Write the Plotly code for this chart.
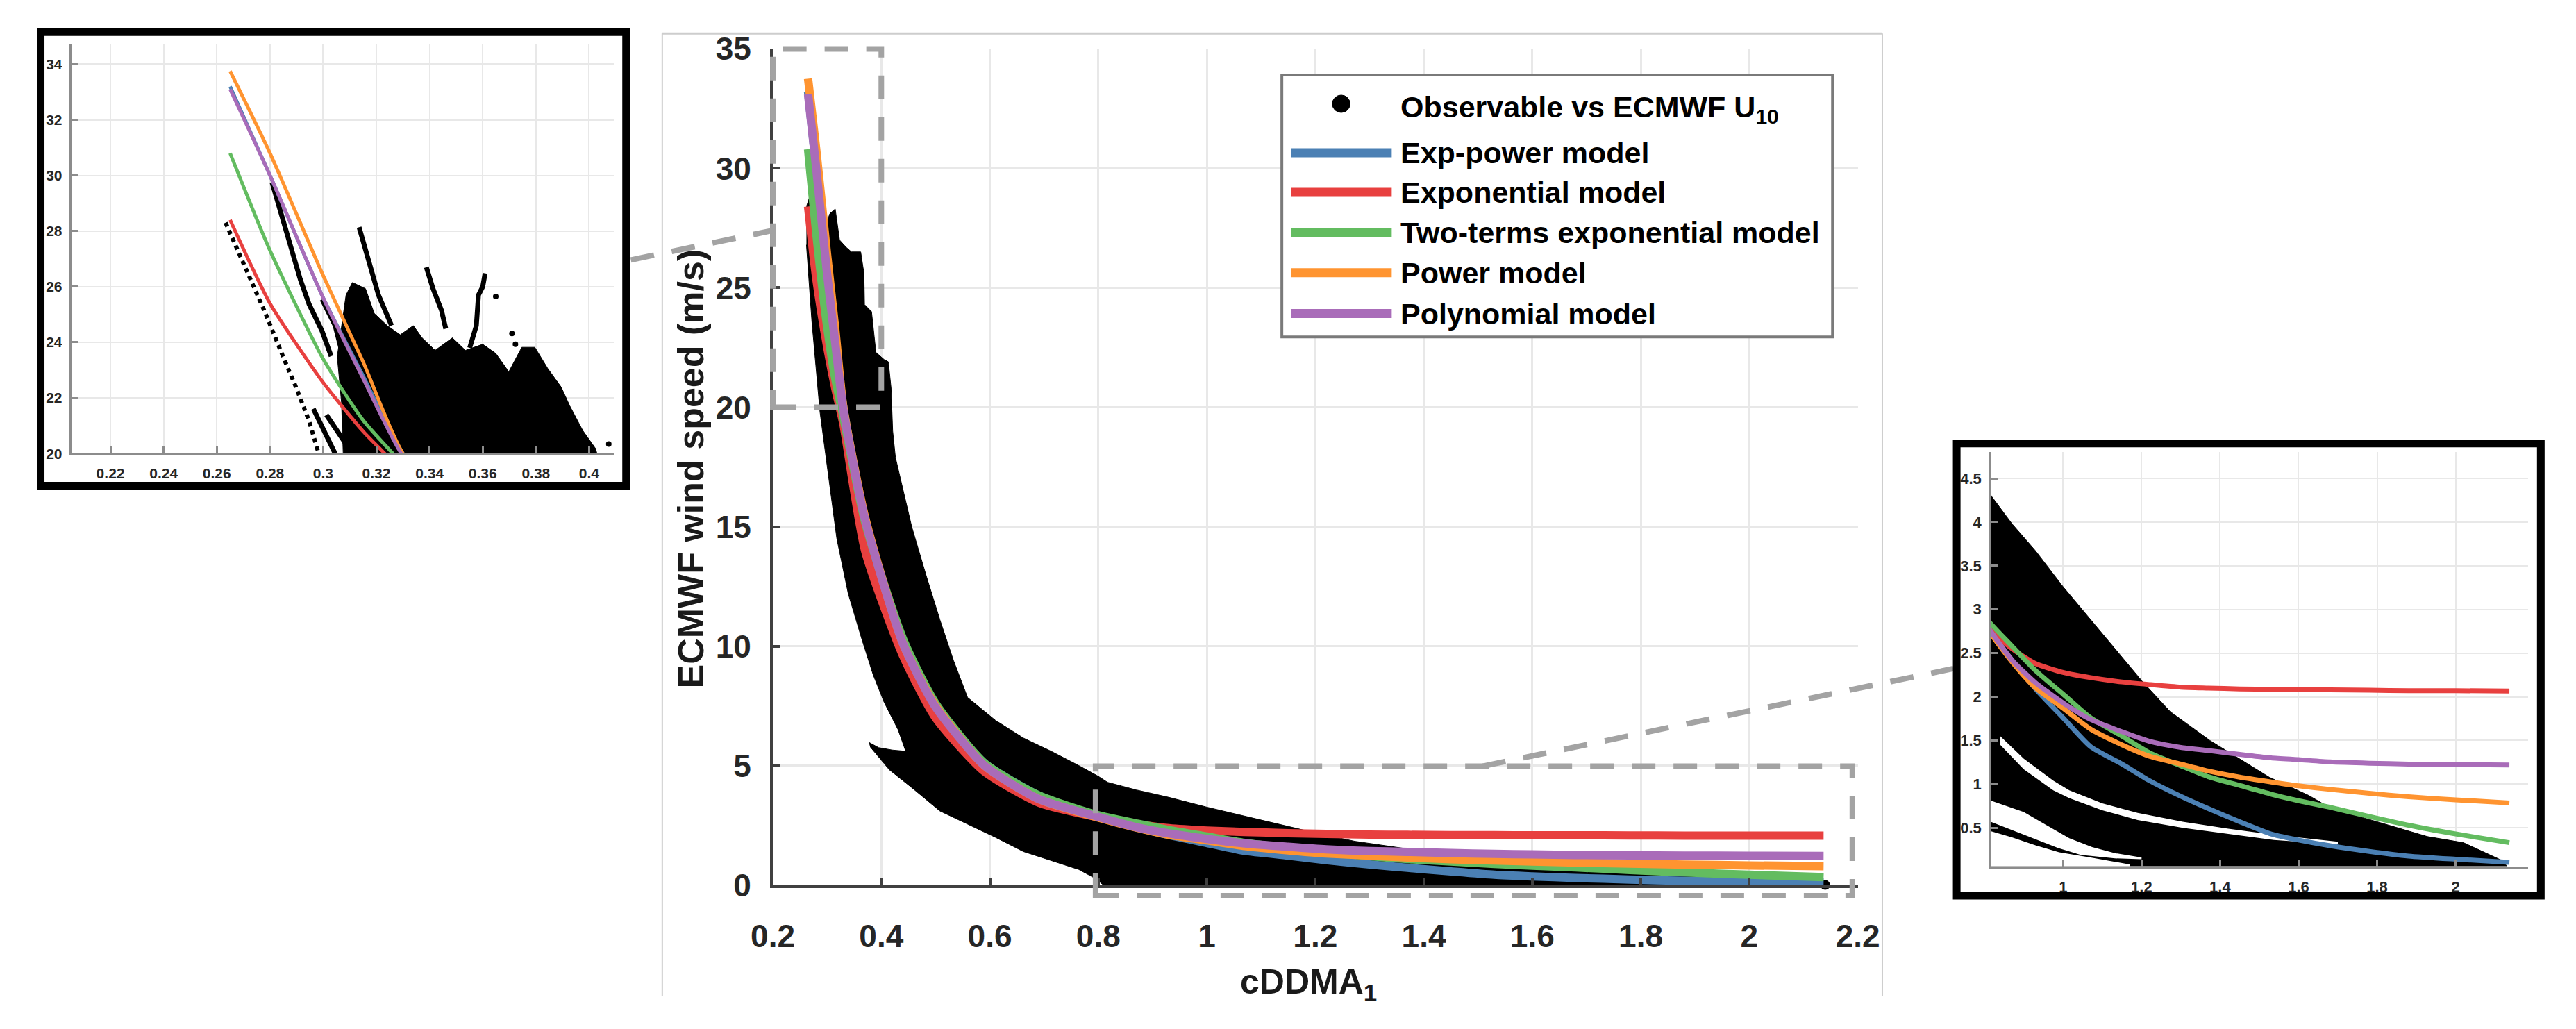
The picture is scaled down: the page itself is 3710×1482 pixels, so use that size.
import plotly.graph_objects as go

W, H = 3710, 1482
FONT = "Liberation Sans"

# ---------------- data ----------------
fit_x = [0.265, 0.28, 0.30, 0.315, 0.33, 0.37, 0.44, 0.50, 0.59, 0.69, 0.80, 0.87, 0.93, 1.00,
         1.07, 1.15, 1.22, 1.30, 1.37, 1.45, 1.53, 1.60, 1.68, 1.78, 1.88, 2.00, 2.137]
exp_power = [33.2, 30.0, 25.6, 22.8, 20.0, 15.3, 10.1, 7.5, 5.1, 3.75, 2.85, 2.42, 2.09, 1.76,
             1.43, 1.23, 1.04, 0.86, 0.72, 0.57, 0.43, 0.36, 0.295, 0.23, 0.176, 0.14, 0.105]
exponential = [28.4, 25.4, 22.55, 20.8, 19.3, 14.0, 9.6, 7.0, 4.75, 3.45, 2.83, 2.55, 2.38, 2.28,
               2.22, 2.17, 2.14, 2.11, 2.10, 2.09, 2.085, 2.08, 2.08, 2.075, 2.07, 2.07, 2.065]
two_terms = [30.8, 27.3, 23.4, 21.2, 19.6, 15.2, 10.3, 7.6, 5.1, 3.75, 2.92, 2.58, 2.30, 2.03,
             1.76, 1.55, 1.36, 1.21, 1.085, 0.985, 0.885, 0.81, 0.735, 0.63, 0.53, 0.43, 0.33]
power = [33.75, 30.8, 26.4, 23.3, 20.0, 15.4, 10.1, 7.5, 5.0, 3.6, 2.82, 2.40, 2.10, 1.87,
         1.63, 1.45, 1.32, 1.23, 1.15, 1.08, 1.025, 0.98, 0.94, 0.895, 0.855, 0.82, 0.785]
polynomial = [33.1, 30.0, 25.6, 22.7, 19.9, 15.3, 10.1, 7.45, 5.0, 3.6, 2.85, 2.42, 2.16, 1.93,
              1.74, 1.60, 1.49, 1.42, 1.385, 1.34, 1.30, 1.28, 1.255, 1.24, 1.23, 1.225, 1.22]

model_names = ["Exp-power model", "Exponential model", "Two-terms exponential model",
               "Power model", "Polynomial model"]
model_colors = ["#4b80b4", "#e8403f", "#63bc60", "#ff9430", "#a96cb9"]
model_values = [exp_power, exponential, two_terms, power, polynomial]

# outline of the dense observation cloud (main axes)
cloud_x = [0.262, 0.281, 0.292, 0.305, 0.315, 0.323, 0.335, 0.345, 0.362, 0.368, 0.369, 0.382,
           0.390, 0.405, 0.413, 0.418, 0.421, 0.426, 0.456, 0.482, 0.508, 0.533, 0.559, 0.610,
           0.662, 0.713, 0.764, 0.800, 0.817, 0.870, 0.930, 1.000, 1.102, 1.203, 1.273, 1.374,
           1.525, 1.626, 1.676, 1.777, 1.928, 2.020, 2.121, 2.140,
           2.140, 0.820, 0.795, 0.764, 0.713, 0.662, 0.610, 0.559, 0.508, 0.457, 0.415, 0.380,
           0.378, 0.395, 0.420, 0.445, 0.431, 0.405, 0.385, 0.364, 0.339, 0.318, 0.303, 0.287,
           0.272, 0.262]
cloud_y = [28.4, 29.7, 27.2, 28.1, 28.3, 27.0, 26.7, 26.5, 26.5, 25.6, 24.3, 24.0,
           22.3, 22.0, 21.9, 20.8, 19.0, 17.9, 15.0, 13.0, 11.1, 9.4, 7.85, 6.9,
           6.15, 5.6, 5.0, 4.55, 4.3, 3.98, 3.67, 3.26, 2.71, 2.17, 1.83, 1.50,
           1.08, 0.87, 0.74, 0.60, 0.40, 0.33, 0.12, 0.0,
           -0.2, -0.2, 0.27, 0.65, 1.03, 1.4, 2.0, 2.55, 3.1, 4.06, 4.82, 5.77,
           5.96, 5.75, 5.65, 5.6, 6.5, 7.66, 8.8, 10.3, 12.2, 14.5, 17.0, 19.8,
           23.6, 26.8]
end_point_x = [2.14]
end_point_y = [0.0]

# white gaps inside the cloud (right zoom)
gap1_x = [0.84, 0.90, 0.975, 1.016, 1.10, 1.19, 1.305, 1.421, 1.537, 1.70,
          1.70, 1.537, 1.421, 1.305, 1.19, 1.10, 1.016, 0.975, 0.90, 0.84]
gap1_y = [1.55, 1.29, 1.04, 0.93, 0.78, 0.67, 0.57, 0.49, 0.42, 0.34,
          0.31, 0.36, 0.43, 0.50, 0.59, 0.70, 0.84, 0.93, 1.17, 1.45]
gap2_x = [0.810, 0.90, 0.958, 1.016, 1.074, 1.132, 1.20,
          1.20, 1.132, 1.045, 0.987, 0.929, 0.87, 0.810]
gap2_y = [0.82, 0.68, 0.53, 0.38, 0.28, 0.21, 0.16,
          0.14, 0.15, 0.19, 0.27, 0.37, 0.47, 0.58]
gap3_x = [0.81, 0.87, 0.93, 0.99, 1.07, 1.17, 1.17, 0.81]
gap3_y = [0.47, 0.39, 0.30, 0.22, 0.16, 0.08, 0.0, 0.0]

# left zoom: dense mass, streaks, trail and isolated dots
zmass_x = [0.3077, 0.3069, 0.3053, 0.3069, 0.3086, 0.3110, 0.3159, 0.3192, 0.3241, 0.3290,
           0.3339, 0.3372, 0.3421, 0.3486, 0.3535, 0.3600, 0.3649, 0.3698, 0.3747, 0.3796,
           0.3845, 0.3895, 0.3927, 0.3976, 0.4025, 0.4042]
zmass_y = [19.5, 21.83, 23.49, 24.6, 25.7, 26.15, 25.93, 25.04, 24.6, 24.27,
           24.6, 24.16, 23.71, 24.16, 23.71, 23.93, 23.6, 22.94, 23.82, 23.82,
           23.05, 22.39, 21.72, 20.83, 20.17, 19.5]
streak_x = [0.2808, 0.2865, 0.2914, 0.2947, 0.2996, 0.3030, None,
            0.3135, 0.3175, 0.3208, 0.3257, None,
            0.3388, 0.3413, 0.3445, 0.3461, None,
            0.3609, 0.3600, 0.3584, 0.3576, 0.3551, None,
            0.2963, 0.3045, None,
            0.3012, 0.3110, None,
            0.2996, 0.3045, 0.3077]
streak_y = [29.74, 27.92, 26.26, 25.37, 24.4, 23.5, None,
            28.14, 26.81, 25.7, 24.6, None,
            26.70, 25.93, 25.15, 24.49, None,
            26.48, 26.0, 25.7, 24.6, 23.8, None,
            21.61, 20.0, None,
            21.39, 20.0, None,
            25.54, 24.6, 23.4]
trail_x = [0.2633, 0.2718, 0.2783, 0.2849, 0.2898, 0.2947, 0.2983]
trail_y = [28.30, 26.48, 25.04, 23.49, 22.38, 21.17, 20.0]
dots_x = [0.3649, 0.3710, 0.3723, 0.4074]
dots_y = [25.65, 24.32, 23.93, 20.34]

# ticks
main_xticks = [0.2, 0.4, 0.6, 0.8, 1.0, 1.2, 1.4, 1.6, 1.8, 2.0, 2.2]
main_xlabels = ["0.2", "0.4", "0.6", "0.8", "1", "1.2", "1.4", "1.6", "1.8", "2", "2.2"]
main_yticks = [0, 5, 10, 15, 20, 25, 30, 35]
left_xticks = [0.22, 0.24, 0.26, 0.28, 0.30, 0.32, 0.34, 0.36, 0.38, 0.40]
left_xlabels = ["0.22", "0.24", "0.26", "0.28", "0.3", "0.32", "0.34", "0.36", "0.38", "0.4"]
left_yticks = [20, 22, 24, 26, 28, 30, 32, 34]
right_xticks = [1.0, 1.2, 1.4, 1.6, 1.8, 2.0]
right_xlabels = ["1", "1.2", "1.4", "1.6", "1.8", "2"]
right_yticks = [0.5, 1.0, 1.5, 2.0, 2.5, 3.0, 3.5, 4.0, 4.5]
right_ylabels = ["0.5", "1", "1.5", "2", "2.5", "3", "3.5", "4", "4.5"]

# ---------------- layout geometry (pixels) ----------------
MAIN = dict(x0=1100, x1=2690, ytop=46, ybot=1294, xr=[0.2, 2.2], yr=[0, 35])
LEFT = dict(x0=72, x1=867, ytop=39, ybot=650, xr=[0.2053, 0.4093], yr=[20, 34.72])
RIGHT = dict(x0=2885, x1=3672, ytop=648, ybot=1266, xr=[0.816, 2.184], yr=[0.06, 4.8])


def px(x):
    return x / W


def py(y):
    return 1 - y / H


def mx(v):
    return px(MAIN["x0"] + (v - MAIN["xr"][0]) / (MAIN["xr"][1] - MAIN["xr"][0]) * (MAIN["x1"] - MAIN["x0"]))


def my(v):
    return py(MAIN["ybot"] - (v - MAIN["yr"][0]) / (MAIN["yr"][1] - MAIN["yr"][0]) * (MAIN["ybot"] - MAIN["ytop"]))


fig = go.Figure()

# ---------------- main axes ----------------
fig.add_trace(go.Scatter(x=cloud_x, y=cloud_y, mode="lines", fill="toself", fillcolor="black",
                         line=dict(width=1, color="black"), xaxis="x", yaxis="y", hoverinfo="skip"))
fig.add_trace(go.Scatter(x=end_point_x, y=end_point_y, mode="markers",
                         marker=dict(size=14, color="black"), xaxis="x", yaxis="y", cliponaxis=False))
for vals, col in zip(model_values, model_colors):
    fig.add_trace(go.Scatter(x=fit_x, y=vals, mode="lines", line=dict(color=col, width=12, shape="spline", smoothing=0.6),
                             xaxis="x", yaxis="y", hoverinfo="skip"))

# ---------------- left zoom ----------------
fig.add_trace(go.Scatter(x=zmass_x, y=zmass_y, mode="lines", fill="toself", fillcolor="black",
                         line=dict(width=1, color="black"), xaxis="x2", yaxis="y2"))
fig.add_trace(go.Scatter(x=streak_x, y=streak_y, mode="lines", line=dict(width=7, color="black"),
                         xaxis="x2", yaxis="y2"))
fig.add_trace(go.Scatter(x=trail_x, y=trail_y, mode="lines", line=dict(width=6, color="black", dash="dot"),
                         xaxis="x2", yaxis="y2"))
fig.add_trace(go.Scatter(x=dots_x, y=dots_y, mode="markers", marker=dict(size=8, color="black"),
                         xaxis="x2", yaxis="y2"))
for vals, col in zip(model_values, model_colors):
    fig.add_trace(go.Scatter(x=fit_x, y=vals, mode="lines", line=dict(color=col, width=5, shape="spline", smoothing=0.6),
                             xaxis="x2", yaxis="y2"))

# ---------------- right zoom ----------------
fig.add_trace(go.Scatter(x=cloud_x, y=cloud_y, mode="lines", fill="toself", fillcolor="black",
                         line=dict(width=1, color="black"), xaxis="x3", yaxis="y3"))
for gx, gy in ((gap1_x, gap1_y), (gap2_x, gap2_y), (gap3_x, gap3_y)):
    fig.add_trace(go.Scatter(x=gx, y=gy, mode="lines", fill="toself", fillcolor="white",
                             line=dict(width=0, color="white"), xaxis="x3", yaxis="y3"))
for vals, col in zip(model_values, model_colors):
    fig.add_trace(go.Scatter(x=fit_x, y=vals, mode="lines", line=dict(color=col, width=7, shape="spline", smoothing=0.6),
                             xaxis="x3", yaxis="y3"))


def axis_common(font_size, grid_w, line_w, line_col, standoff):
    return dict(showgrid=True, gridcolor="#e8e8e8", gridwidth=grid_w, zeroline=False,
                showline=True, linecolor=line_col, linewidth=line_w, ticks="inside",
                tickcolor=line_col, tickwidth=line_w, ticklen=10, mirror=False,
                tickfont=dict(family=FONT, size=font_size, color="#262626", weight="bold"),
                ticklabelstandoff=standoff, fixedrange=True)


def dom(g):
    return [px(g["x0"]), px(g["x1"])], [py(g["ybot"]), py(g["ytop"])]


mdx, mdy = dom(MAIN)
ldx, ldy = dom(LEFT)
rdx, rdy = dom(RIGHT)

fig.update_layout(
    width=W, height=H, margin=dict(l=0, r=0, t=0, b=0),
    paper_bgcolor="white", plot_bgcolor="white", showlegend=False,
    xaxis=dict(domain=mdx, range=MAIN["xr"], anchor="y", tickvals=main_xticks, ticktext=main_xlabels,
               **axis_common(46, 3, 4, "#404040", 30)),
    yaxis=dict(domain=mdy, range=MAIN["yr"], anchor="x", tickvals=main_yticks,
               **axis_common(46, 3, 4, "#404040", 18)),
    xaxis2=dict(domain=ldx, range=LEFT["xr"], anchor="y2", tickvals=left_xticks, ticktext=left_xlabels,
                **axis_common(21, 2, 3, "#8c8c8c", 8)),
    yaxis2=dict(domain=ldy, range=LEFT["yr"], anchor="x2", tickvals=left_yticks,
                **axis_common(21, 2, 3, "#8c8c8c", 6)),
    xaxis3=dict(domain=rdx, range=RIGHT["xr"], anchor="y3", tickvals=right_xticks, ticktext=right_xlabels,
                **axis_common(22, 2, 3, "#8c8c8c", 8)),
    yaxis3=dict(domain=rdy, range=RIGHT["yr"], anchor="x3", tickvals=right_yticks, ticktext=right_ylabels,
                **axis_common(22, 2, 3, "#8c8c8c", 6)),
)

shapes = []
# light panel frame around the main chart
for (xa, ya, xb, yb, w) in ((938, 23, 938, 1460, 2), (938, 23, 2726, 23, 3), (2726, 23, 2726, 1460, 2)):
    shapes.append(dict(type="line", xref="paper", yref="paper", x0=px(xa), y0=py(ya), x1=px(xb), y1=py(yb),
                       line=dict(color="#cdcdcd", width=w)))
# dashed zoom rectangles and connectors
dash = dict(color="#a3a3a3", width=8, dash="34px,26px")
shapes.append(dict(type="rect", xref="paper", yref="paper", x0=mx(0.2), x1=mx(0.4), y0=my(20), y1=my(35), line=dash))
shapes.append(dict(type="rect", xref="paper", yref="paper", x0=mx(0.795), x1=mx(2.19), y0=my(-0.45), y1=my(4.97), line=dash))
shapes.append(dict(type="line", xref="paper", yref="paper", x0=px(892), y0=py(361), x1=mx(0.2), y1=my(27.4), line=dash))
shapes.append(dict(type="line", xref="paper", yref="paper", x0=mx(1.508), y0=my(4.97), x1=px(2830), y1=py(971), line=dash))
# inset borders
shapes.append(dict(type="rect", xref="paper", yref="paper", x0=px(27), x1=px(885), y0=py(698), y1=py(21),
                   line=dict(color="black", width=11)))
shapes.append(dict(type="rect", xref="paper", yref="paper", x0=px(2835), x1=px(3691), y0=py(1310), y1=py(635),
                   line=dict(color="black", width=11)))
# legend box
shapes.append(dict(type="rect", xref="paper", yref="paper", x0=px(1846), x1=px(2653), y0=py(476), y1=py(85),
                   fillcolor="white", line=dict(color="#7a7a7a", width=4)))
shapes.append(dict(type="circle", xref="paper", yref="paper", x0=px(1920), x1=px(1946), y0=py(141), y1=py(115),
                   fillcolor="black", line=dict(color="black", width=1)))
legend_rows = [201, 260, 320, 380, 441]
for yy, col in zip(legend_rows, model_colors):
    shapes.append(dict(type="line", xref="paper", yref="paper", x0=px(1860), x1=px(2007), y0=py(yy), y1=py(yy),
                       line=dict(color=col, width=13)))
fig.update_layout(shapes=shapes)

ann = []
lf = dict(family=FONT, size=43, color="black", weight="bold")
ann.append(dict(xref="paper", yref="paper", x=px(2018), y=py(136), xanchor="left", yanchor="middle",
                text="Observable vs ECMWF U<sub>10</sub>", showarrow=False, font=lf))
for yy, name in zip(legend_rows, model_names):
    ann.append(dict(xref="paper", yref="paper", x=px(2018), y=py(yy), xanchor="left", yanchor="middle",
                    text=name, showarrow=False, font=lf))
ann.append(dict(xref="paper", yref="paper", x=px(980), y=py(673), xanchor="center", yanchor="middle",
                textangle=-90, text="ECMWF wind speed (m/s)", showarrow=False,
                font=dict(family=FONT, size=52, color="#1a1a1a", weight="bold")))
ann.append(dict(xref="paper", yref="paper", x=px(1885), y=py(1442), xanchor="center", yanchor="middle",
                text="cDDMA<sub>1</sub>", showarrow=False,
                font=dict(family=FONT, size=50, color="#1a1a1a", weight="bold")))
fig.update_layout(annotations=ann)

fig.write_html("out.html", config={"displayModeBar": False, "staticPlot": True},
               post_script="document.body.style.margin='0px';")
